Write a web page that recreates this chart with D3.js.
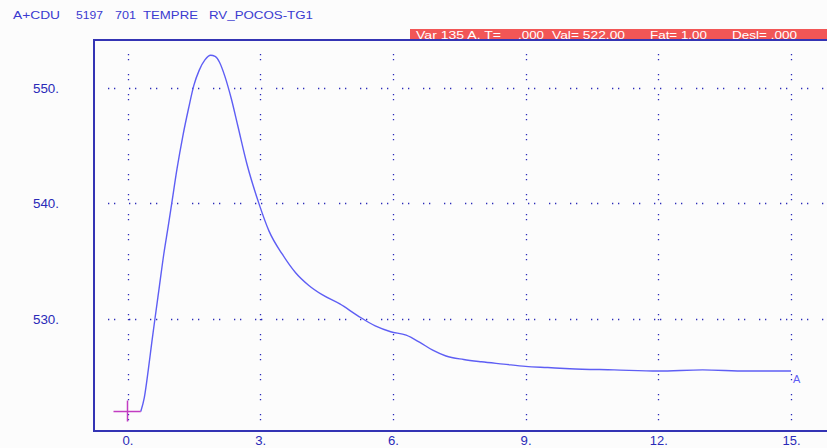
<!DOCTYPE html>
<html>
<head>
<meta charset="utf-8">
<script src="https://cdn.jsdelivr.net/npm/d3@7"></script>
<style>
  html, body { margin: 0; padding: 0; background: #fcfcfc; }
  svg { display: block; }
  text { font-family: "Liberation Sans", Arial, sans-serif; }
</style>
</head>
<body>
<svg id="chart" width="827" height="448"></svg>
<script>
// ---- data ----
const titleParts = ["A+CDU", "5197", "701", "TEMPRE", "RV_POCOS-TG1"];
const infoLabels = ["Var 135 A, T=", ".000", "Val= 522.00", "Fat= 1.00", "Desl= .000"];
const xTicks = [0, 3, 6, 9, 12, 15];
const yTicks = [530, 540, 550];
const timeValues = [0.0, 0.3, 0.38, 0.47, 0.55, 0.62, 0.72, 0.82, 0.92, 1.0, 1.12, 1.25, 1.38, 1.5, 1.62, 1.75, 1.88, 1.98, 2.08, 2.2, 2.35, 2.5, 2.7, 2.97, 3.2, 3.5, 3.8, 4.1, 4.4, 4.8, 5.2, 5.6, 5.95, 6.3, 6.6, 6.9, 7.2, 7.6, 8.0, 8.5, 9.0, 9.5, 10.0, 11.0, 12.0, 13.0, 14.0, 15.0];
const tempValues = [522.0, 522.0, 523.2, 525.6, 528.0, 530.0, 532.8, 535.6, 538.0, 540.0, 543.0, 545.8, 548.2, 550.2, 551.5, 552.4, 552.8, 552.7, 552.2, 551.0, 549.0, 546.6, 543.4, 540.0, 537.6, 535.6, 534.0, 532.9, 532.1, 531.3, 530.3, 529.4, 528.9, 528.6, 528.0, 527.3, 526.8, 526.5, 526.3, 526.1, 525.9, 525.8, 525.7, 525.6, 525.5, 525.6, 525.5, 525.5];
const markerLabel = "A";

// ---- layout ----
const svg = d3.select("#chart");
const blue = "#2a2ab8";
const x = d3.scaleLinear().domain([0, 15]).range([127.5, 791]);
const y = d3.scaleLinear().domain([530, 550]).range([319, 87.7]);
const frameLeft = 94, frameTop = 40, frameBottom = 431, frameRight = 827;

// title (positioned words, widened to match the bitmap font)
const titleX = [13, 76, 115, 143, 209];
const titleW = [47, 27, 21, 55, 104];
titleParts.forEach((t, i) => {
  svg.append("text").attr("x", titleX[i]).attr("y", 18.5)
    .attr("fill", "#3a3ad0").attr("font-size", 11.5)
    .attr("textLength", titleW[i]).attr("lengthAdjust", "spacingAndGlyphs")
    .text(t);
});

// red info bar
svg.append("rect").attr("x", 410).attr("y", 29).attr("width", 417).attr("height", 10.5).attr("fill", "#f25656");
const infoX = [416, 518, 552, 650, 732];
const infoW = [85, 26, 73, 57, 65];
infoLabels.forEach((t, i) => {
  svg.append("text").attr("x", infoX[i]).attr("y", 38.5)
    .attr("fill", "#ffffff").attr("font-size", 11)
    .attr("textLength", infoW[i]).attr("lengthAdjust", "spacingAndGlyphs")
    .text(t);
});

// grid
const g = svg.append("g");
g.selectAll(".vgrid").data(xTicks).enter().append("line")
  .attr("x1", d => Math.round(x(d)) + 0.5).attr("x2", d => Math.round(x(d)) + 0.5)
  .attr("y1", 54).attr("y2", frameBottom)
  .attr("stroke", blue).attr("stroke-width", 1.3)
  .attr("stroke-dasharray", "1.3,3.7,1.3,13.7");
g.selectAll(".hgrid").data(yTicks).enter().append("line")
  .attr("y1", d => Math.round(y(d)) + 0.5).attr("y2", d => Math.round(y(d)) + 0.5)
  .attr("x1", 108).attr("x2", frameRight)
  .attr("stroke", blue).attr("stroke-width", 1.3)
  .attr("stroke-dasharray", "1.3,4.7,1.3,13.7");

// frame
svg.append("path")
  .attr("d", `M${frameRight},${frameTop}H${frameLeft}V${frameBottom}H${frameRight}`)
  .attr("fill", "none").attr("stroke", "#3434b4").attr("stroke-width", 2);

// axes
const xAxis = d3.axisBottom(x).tickValues(xTicks).tickSize(0).tickFormat(d => d + ".");
const xg = svg.append("g").attr("transform", `translate(0,${frameBottom})`).call(xAxis);
xg.select(".domain").remove();
xg.selectAll("text").attr("fill", blue).attr("font-size", 12).attr("y", 14).attr("dy", null)
  .attr("font-family", "Liberation Sans, Arial, sans-serif")
  .attr("textLength", d => String(d).length * 7 + 4).attr("lengthAdjust", "spacingAndGlyphs");

const yAxis = d3.axisLeft(y).tickValues(yTicks).tickSize(0).tickFormat(d => d + ".");
const yg = svg.append("g").attr("transform", `translate(59,0)`).call(yAxis);
yg.select(".domain").remove();
yg.selectAll("text").attr("fill", blue).attr("font-size", 12).attr("x", 0).attr("dy", "0.36em")
  .attr("font-family", "Liberation Sans, Arial, sans-serif")
  .attr("textLength", 26).attr("lengthAdjust", "spacingAndGlyphs");

// curve
const pts = timeValues.map((t, i) => [t, tempValues[i]]);
const line = d3.line().x(d => x(d[0])).y(d => y(d[1])).curve(d3.curveMonotoneX);
svg.append("path").datum(pts.slice(1)).attr("d", line)
  .attr("fill", "none").attr("stroke", "#5e5ef4").attr("stroke-width", 1.4);

// start marker (cross)
const cx = x(timeValues[0]), cy = y(tempValues[0]);
svg.append("line").attr("x1", cx - 14).attr("x2", x(timeValues[1])).attr("y1", cy).attr("y2", cy)
  .attr("stroke", "#c23cc2").attr("stroke-width", 1.5);
svg.append("line").attr("x1", cx).attr("x2", cx).attr("y1", cy - 11).attr("y2", cy + 10)
  .attr("stroke", "#c23cc2").attr("stroke-width", 1.5);

// end label
const last = pts[pts.length - 1];
svg.append("text").attr("x", x(last[0]) + 2).attr("y", y(last[1]) + 12)
  .attr("fill", "#5e5ef4").attr("font-size", 11).text(markerLabel);
</script>
</body>
</html>
